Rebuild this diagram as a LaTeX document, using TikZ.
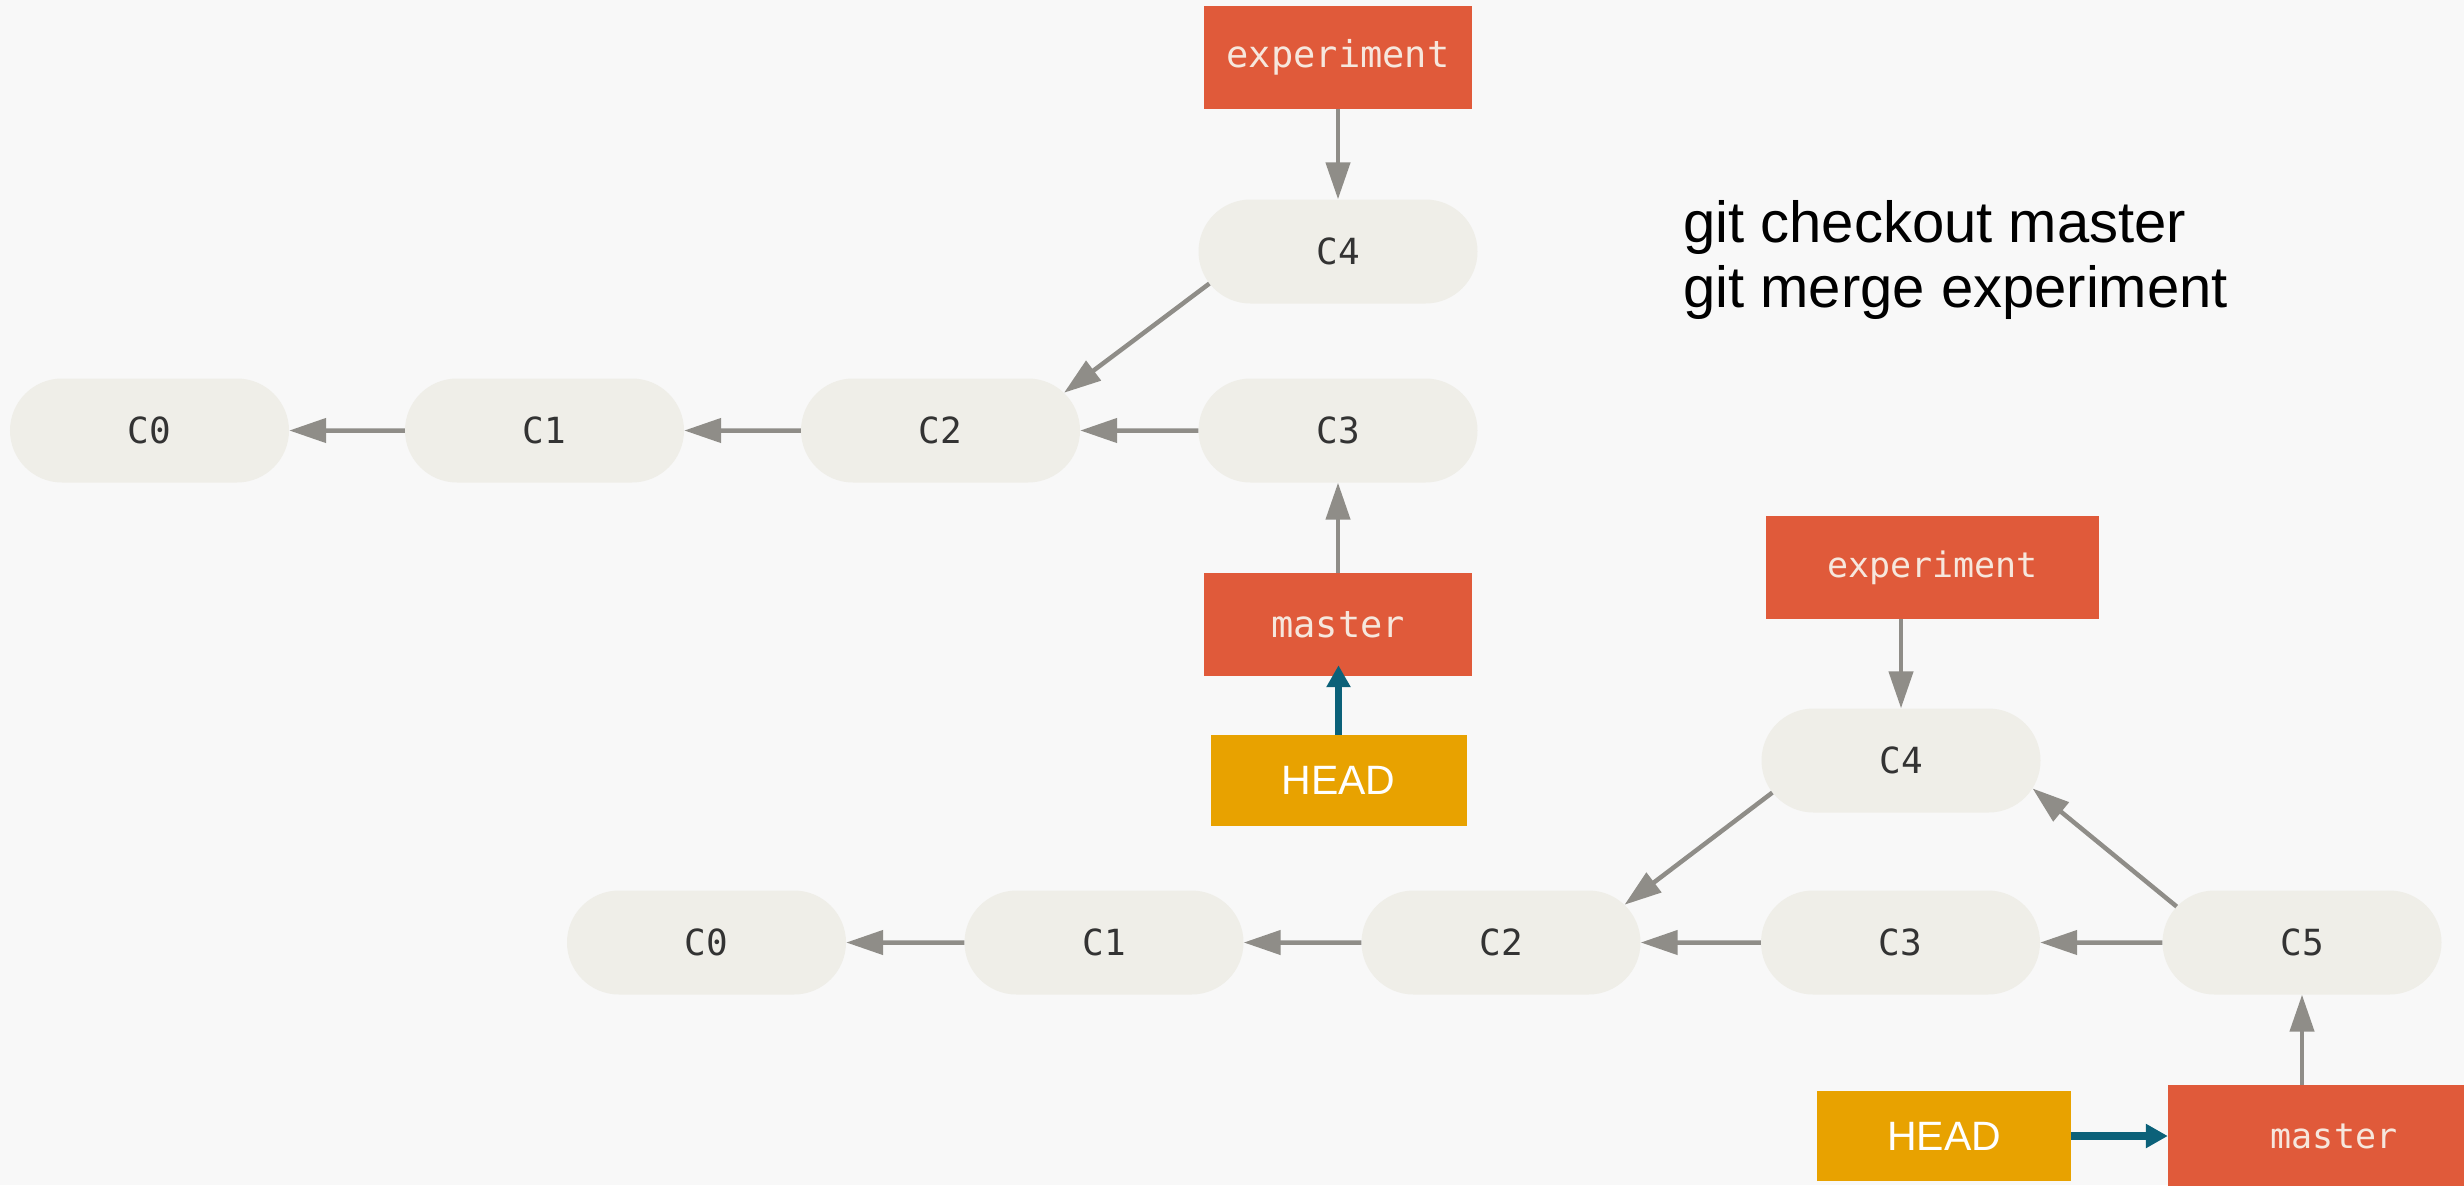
\documentclass[tikz,border=0pt]{standalone}
\usepackage{fontspec}
\setmainfont{Liberation Sans}
\newfontfamily\codefont{DejaVu Sans Mono}
\usetikzlibrary{arrows.meta,shapes.misc,calc}

\definecolor{bgcol}{HTML}{F8F8F8}
\definecolor{commitfill}{HTML}{EFEEE8}
\definecolor{committext}{HTML}{333333}
\definecolor{branchfill}{HTML}{E05A3A}
\definecolor{branchtext}{HTML}{F6E7DD}
\definecolor{arrowgray}{HTML}{8F8D88}
\definecolor{headfill}{HTML}{E8A200}
\definecolor{headarrow}{HTML}{0B6179}

\begin{document}
\begin{tikzpicture}[x=1bp,y=-1bp,
  commit/.style={rounded rectangle, fill=commitfill, draw=none,
    minimum width=279bp, minimum height=104bp, inner sep=0pt,
    text=committext, font=\codefont\fontsize{36bp}{40bp}\selectfont},
  branch/.style={rectangle, fill=branchfill, inner sep=0pt,
    minimum height=103bp, text=branchtext,
    font=\codefont\fontsize{37bp}{40bp}\selectfont},
  headbox/.style={rectangle, fill=headfill, inner sep=0pt,
    minimum width=256bp, minimum height=91bp, text=white,
    font=\fontsize{41bp}{44bp}\selectfont},
  parent/.style={draw=arrowgray, line width=4.5bp,
    -{Triangle[length=37bp,width=24bp]}},
  headptr/.style={draw=headarrow, line width=7.5bp,
    -{Triangle[length=22bp,width=23bp]}},
  cmdtext/.style={anchor=base west, inner sep=0pt, text=black,
    font=\fontsize{58bp}{66bp}\selectfont}
]
\clip (0,0) rectangle (2464,1185);
\fill[bgcol] (0,0) rectangle (2464,1185);

% ---------- history before the merge ----------
\node[commit] (a0) at (149.5,430.5) {C0};
\node[commit] (a1) at (544.5,430.5) {C1};
\node[commit] (a2) at (940.5,430.5) {C2};
\node[commit] (a3) at (1338,430.5) {C3};
\node[commit] (a4) at (1338,251.5) {C4};
\node[branch, minimum width=268bp] (aexp) at (1338,57.5) {experiment};
\node[branch, minimum width=268bp] (amaster) at (1338,624.5) {master};
\node[headbox] (ahead) at (1338.5,780.5) {HEAD};

\draw[parent] (a1) -- (a0);
\draw[parent] (a2) -- (a1);
\draw[parent] (a3) -- (a2);
\draw[parent] (a4.194) -- (a2.17);
\draw[parent] (a4.north |- aexp.south) -- (a4.north);
\draw[parent] (a3.south |- amaster.north) -- (a3.south);
\draw[headptr, shorten >=-11bp] (ahead.north) -- (ahead.north |- amaster.south);

% ---------- commands ----------
\node[cmdtext] (cmd1) at (1683,242) {git checkout master};
\node[cmdtext] (cmd2) at (1683,307) {git merge experiment};

% ---------- history after the merge ----------
\node[commit] (b0) at (706.5,942.5) {C0};
\node[commit] (b1) at (1104,942.5) {C1};
\node[commit] (b2) at (1501,942.5) {C2};
\node[commit] (b3) at (1900.5,942.5) {C3};
\node[commit] (b4) at (1901,760.5) {C4};
\node[commit] (b5) at (2302,942.5) {C5};
\node[branch, minimum width=333bp,
  font=\codefont\fontsize{35bp}{40bp}\selectfont] (bexp) at (1932.5,567.5) {experiment};
\node[branch, minimum width=332bp,
  font=\codefont\fontsize{35bp}{40bp}\selectfont] (bmaster) at (2334,1136.5) {master};
\node[headbox, minimum width=254bp, minimum height=90bp] (bhead) at (1944,1136) {HEAD};

\draw[parent] (b1) -- (b0);
\draw[parent] (b2) -- (b1);
\draw[parent] (b3) -- (b2);
\draw[parent] (b5) -- (b3);
\draw[parent] (b4.194) -- (b2.17);
\draw[parent] (b5.164) -- (b4.-12);
\draw[parent] (b4.north |- bexp.south) -- (b4.north);
\draw[parent] (b5.south |- bmaster.north) -- (b5.south);
\draw[headptr] (bhead.east) -- (bhead.east -| bmaster.west);
\end{tikzpicture}
\end{document}
